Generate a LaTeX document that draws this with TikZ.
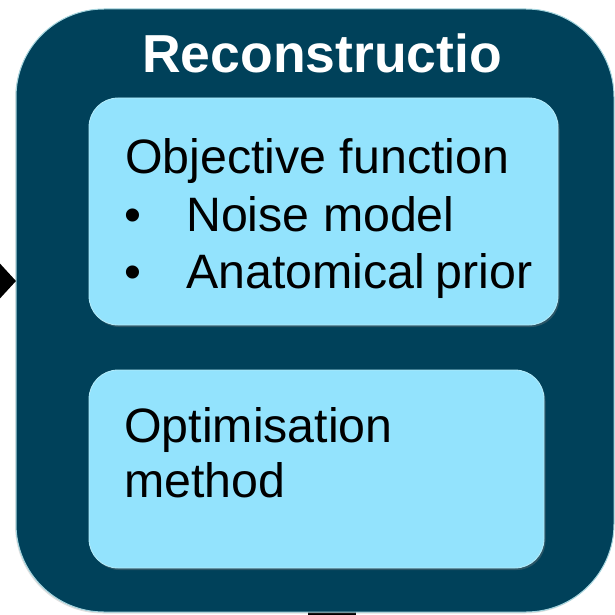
\documentclass[tikz,border=0pt]{standalone}
\usepackage{fontspec}
\setmainfont{Liberation Sans}
\usetikzlibrary{arrows.meta,shadows}
\definecolor{darkteal}{HTML}{00415A}
\definecolor{lightblue}{HTML}{93E3FD}
\definecolor{outerrim}{HTML}{A5D5DE}
\definecolor{innerrim}{HTML}{B5ECFA}
\tikzset{
  outerbox/.style={fill=darkteal, draw=outerrim, line width=1pt, rounded corners=88pt,
    drop shadow={opacity=0.25, shadow xshift=-1pt, shadow yshift=-1.5pt}},
  innerbox/.style={fill=lightblue, draw=innerrim, line width=0.8pt, rounded corners=29pt,
    drop shadow={opacity=0.35, shadow xshift=1.5pt, shadow yshift=-2pt}},
  titletext/.style={anchor=base west, inner sep=0pt, text=white,
    font=\fontsize{53.5}{60}\selectfont\bfseries},
  bodytext/.style={anchor=base west, inner sep=0pt, text=black,
    font=\fontsize{48.3}{57}\selectfont},
  flowarrow/.style={line width=10pt, -{Triangle[length=17pt,width=36pt]}},
}
\begin{document}
\begin{tikzpicture}[x=1pt,y=-1pt]
\useasboundingbox (0,0) rectangle (615,615);
\clip (0,0) rectangle (615,615);
% outgoing connector at the bottom
\coordinate (outbot) at (332,612);
\coordinate (outend) at (332,660);
\draw[line width=48pt, black] (outbot) -- (outend);
% main box
\node[outerbox, minimum width=598pt, minimum height=603pt, inner sep=0pt] (outer) at (315,310.5) {};
% incoming arrow from the left
\coordinate (src) at (-60,281);
\coordinate (tipL) at (16,281);
\draw[flowarrow] (src) -- (tipL);
% inner boxes
\node[innerbox, minimum width=469pt, minimum height=227pt, inner sep=0pt] (objbox) at (323.5,211.5) {};
\node[innerbox, minimum width=455pt, minimum height=198pt, inner sep=0pt] (optbox) at (316.5,469) {};
% texts
\node[titletext] (title) at (142,73) {Reconstructio};
\node[bodytext] (obj) at (125,173) {Objective function};
\node[bodytext] (b1) at (124,231) {•};
\node[bodytext] (noise) at (186,231) {Noise model};
\node[bodytext] (b2) at (124,288) {•};
\node[bodytext] (anat) at (186,288) {Anatomical\kern-0.06em\ prior};
\node[bodytext] (opt1) at (124,442) {Optimisation};
\node[bodytext] (opt2) at (124,497) {method};
\end{tikzpicture}
\end{document}
